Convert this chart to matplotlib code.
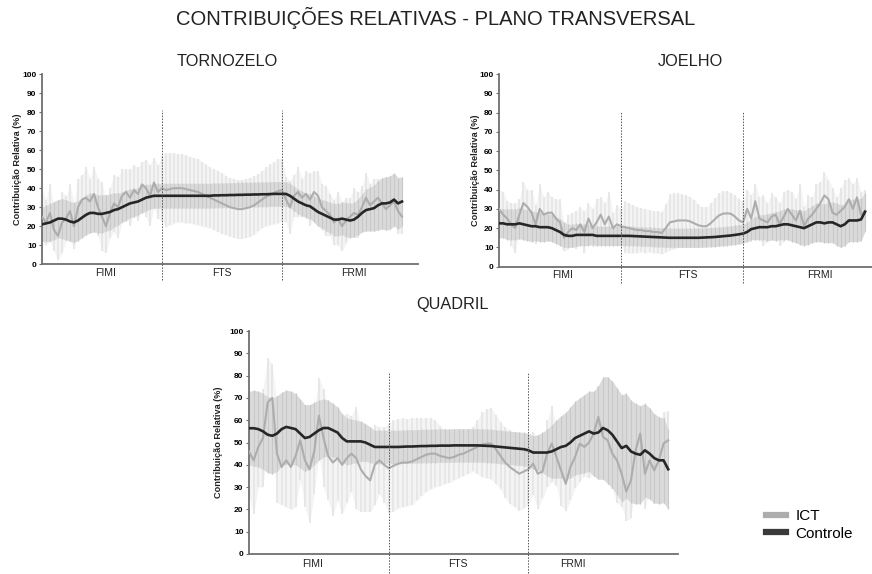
import numpy as np
import matplotlib
matplotlib.use("Agg")
import matplotlib.pyplot as plt
from matplotlib.lines import Line2D

plt.rcParams['font.family'] = ['Liberation Sans', 'DejaVu Sans']

title = "CONTRIBUIÇÕES RELATIVAS - PLANO TRANSVERSAL"
panel_titles = ["TORNOZELO", "JOELHO", "QUADRIL"]
phases = ["FIMI", "FTS", "FRMI"]
phase_bounds = [30, 60]
y_ticks = [0, 10, 20, 30, 40, 50, 60, 70, 80, 90, 100]
ylabel = "Contribuição Relativa (%)"
legend_labels = ["ICT", "Controle"]

# ---------------- TORNOZELO ----------------
ict_mean_T = [25, 22, 27, 18, 15, 22, 24, 28, 20, 30, 34,
              35, 33, 37, 30, 25, 20, 27, 32, 30, 36,
              38, 35, 39, 37, 42, 40, 36, 43, 38, 40,
              39, 39.5, 40, 40, 40, 39.5, 39, 38.5, 38, 37,
              36, 35, 34, 33, 32, 31, 30, 29.5, 29, 29,
              29.5, 30, 31, 32.5, 34, 35.5, 36.5, 37.5, 38.5, 39,
              34, 30, 36, 38, 35, 37, 34, 38, 36, 30,
              28, 26, 22, 24, 20, 23, 25, 27, 26, 30,
              35, 31, 33, 35, 32, 29, 31, 33, 28, 25]
ict_sd_T = [14, 12, 15, 11, 13, 16, 12, 14, 12, 15, 13,
            16, 12, 14, 15, 18, 14, 13, 15, 16, 14,
            12, 15, 13, 14, 12, 15, 16, 13, 14, 17,
            19.5, 19, 18.5, 18, 18, 18, 17.5, 17.5, 17.5, 17,
            16.5, 16, 16, 16, 16, 15.5, 15.5, 15.5, 15.5, 15.5,
            15.5, 15.5, 15.5, 15, 15, 15.5, 16, 16.5, 17, 16.5,
            12, 14, 11, 13, 10, 12, 14, 11, 13, 12,
            13, 11, 12, 14, 13, 12, 10, 13, 12, 11,
            13, 11, 12, 10, 12, 11, 13, 10, 12, 9]
ctrl_mean_T = [21, 21.5, 22, 23, 24, 24, 23.5, 22.5, 22, 23, 24.5,
               26, 27, 27, 26.5, 26.5, 27, 27.5, 28.5, 29, 30,
               31, 32, 32.5, 33, 34, 35, 35.5, 36, 36, 36,
               36, 36, 36, 36, 36, 36, 36, 36, 36, 36,
               36, 36, 36.2, 36.2, 36.3, 36.3, 36.4, 36.4, 36.5, 36.5,
               36.6, 36.6, 36.7, 36.7, 36.8, 36.8, 36.9, 37, 37, 37,
               37, 36, 34.5, 33, 32, 31, 30.5, 29, 27.5, 26.5,
               25.5, 24.5, 23.5, 23.5, 24, 23.5, 23, 23.5, 25, 27,
               28.5, 29, 29.5, 31, 32, 32, 32.5, 34, 32, 33]
ctrl_sd_T = [9, 9.5, 10, 10, 10, 10.5, 10.5, 10.5, 10.5, 10.5, 10.5,
             10.5, 10.5, 10, 10, 10, 9.5, 9.5, 9, 8.5, 8,
             8, 7.5, 7.5, 7, 7, 7, 6.5, 6.5, 6.5, 6.5,
             6.5, 6.5, 6.5, 6.5, 6.5, 6.5, 6.5, 6.5, 6.5, 6.5,
             6.5, 6.5, 6.5, 6.5, 6.5, 6.5, 6.5, 6.5, 6.5, 6.5,
             6.5, 6.5, 6.5, 6.5, 6.5, 6.5, 6.5, 6.5, 6.5, 6.5,
             6.5, 6.5, 6.5, 6.5, 6.5, 6.5, 6.5, 7, 7.5, 7.5,
             8, 8, 8.5, 8.5, 8.5, 9, 9, 9, 9.5, 10,
             11, 11.5, 12, 13, 13.5, 14, 14, 14, 13.5, 13]

# ---------------- JOELHO ----------------
ict_mean_J = [30, 27, 25, 22, 20, 27, 33, 31, 28, 22, 30,
              27, 28, 28, 25, 23, 15, 18, 20, 19, 22,
              18, 25, 20, 23, 27, 22, 26, 20, 22, 21,
              20.5, 20, 19.5, 19, 19, 18.5, 18.5, 18, 18, 17.5,
              20, 23, 23.5, 24, 24, 24, 23.5, 22.5, 21.5, 21,
              21, 22.5, 24.5, 26.5, 27.5, 27.7, 27.5, 26, 24, 23,
              30, 25, 34, 25, 24, 23, 26, 27, 22, 26,
              30, 27, 24, 29, 21, 25, 27, 30, 33, 37,
              35, 28, 27, 29, 31, 35, 30, 36, 27, 29]
ict_sd_J = [10, 12, 9, 11, 13, 8, 11, 9, 12, 10, 13,
            9, 11, 8, 10, 12, 7, 9, 8, 10, 9,
            11, 8, 10, 12, 9, 11, 13, 8, 10, 9,
            13.4, 13, 12.5, 12, 11.5, 11.5, 11, 11, 11, 11,
            12.5, 14.5, 14.5, 14, 13.5, 13, 12.5, 12.3, 11, 10,
            10, 10.5, 11, 11.5, 11.8, 11.5, 11, 11, 11, 11,
            10, 12, 9, 11, 13, 10, 12, 9, 11, 13,
            10, 12, 11, 14, 10, 12, 9, 13, 11, 12,
            10, 13, 9, 12, 14, 11, 13, 10, 12, 11]
ctrl_mean_J = [22.5, 22.5, 22, 22, 22, 22.5, 22, 21.5, 21, 21, 20.5,
               20.5, 20.5, 20, 19, 18, 16.5, 16, 16, 16.5, 16.5,
               16.5, 16.5, 16.5, 16, 16, 16, 16, 16, 16, 16,
               16, 16, 15.9, 15.8, 15.7, 15.6, 15.5, 15.4, 15.3, 15.2,
               15.1, 15, 15, 15, 15, 15, 15, 15, 15, 15.1,
               15.2, 15.3, 15.4, 15.6, 15.8, 16, 16.2, 16.5, 16.8, 17.2,
               18, 19.5, 20, 20.5, 20.5, 20.5, 21, 21, 21.5, 22,
               22, 21.5, 21, 20.5, 20, 21, 22, 23, 23, 22.5,
               23, 23, 22, 21, 22, 24, 24, 24, 24.5, 28.5]
ctrl_sd_J = [7.5, 7.5, 8, 8, 8, 8, 8, 8, 8, 7.5, 7.5,
             7.5, 7, 7, 7, 7, 6.5, 6, 6, 6, 5.5,
             5.5, 5.5, 5, 5, 5, 5, 5, 5, 5, 5,
             5, 5, 5, 5, 5, 5, 5, 5, 5, 5,
             5, 5, 5, 5, 5, 5, 5, 5, 5, 5,
             5, 5, 5, 5, 5, 5, 5, 5, 5, 5,
             5, 5.5, 6, 6.5, 6.5, 7, 7, 7.5, 7.5, 8,
             8, 8.5, 8.5, 9, 9, 9.5, 9.5, 10, 10, 10,
             10.5, 10.5, 11, 11, 11, 11, 11, 11, 11, 10]

# ---------------- QUADRIL ----------------
ict_mean_Q = [46, 42, 48, 52, 68, 70, 45, 39, 42, 39, 44,
              51, 42, 38, 46, 62, 52, 44, 41, 43, 40,
              43, 45, 43, 38, 35, 33, 40, 42, 40, 38.5,
              39.5, 40.5, 41, 41, 41.5, 42.5, 43.5, 44.5, 45, 45,
              44, 43.5, 43, 43.5, 44.5, 45, 46, 47, 48, 49,
              49.5, 49.5, 47, 44, 41, 39, 37.5, 36, 37, 38,
              40.5, 36, 37, 45, 49.5, 43.5, 37.5, 31.5, 39, 43.5,
              49.5, 48, 50, 54, 61.5, 52.5, 51, 45, 42, 36,
              28, 33, 46.5, 54, 36, 42, 37.5, 42, 49.5, 51]
ict_sd_Q = [20, 24, 18, 22, 20, 15, 22, 17, 21, 19, 23,
            18, 21, 24, 19, 17, 22, 20, 24, 19, 22,
            20, 17, 23, 19, 16, 14, 18, 15, 17, 20,
            20.5, 20, 20, 19.5, 19.5, 18.5, 17.5, 16.5, 16, 15,
            13.5, 12, 11, 10.5, 10.5, 10, 10, 10, 12, 14.5,
            15.5, 16, 15.5, 15, 16, 16.5, 16.5, 16.5, 16.5, 16,
            14, 16, 12, 15, 17, 13, 16, 12, 15, 14,
            17, 13, 16, 18, 14, 17, 13, 16, 19, 15,
            13, 17, 14, 12, 16, 13, 15, 12, 14, 13]
ctrl_mean_Q = [56.4, 56.4, 56, 55, 53.5, 53, 54, 56, 57, 56.5, 56,
               54, 52, 52.5, 54, 55.5, 56.5, 56.5, 55.5, 54.5, 52,
               50.5, 50.5, 50.5, 50.5, 50, 49, 48, 48, 48, 48,
               48, 48, 48.1, 48.2, 48.2, 48.3, 48.4, 48.4, 48.5, 48.5,
               48.6, 48.6, 48.6, 48.7, 48.7, 48.7, 48.7, 48.7, 48.7, 48.6,
               48.5, 48.4, 48.2, 48, 47.8, 47.6, 47.4, 47.2, 47, 46.5,
               45.5, 45.5, 45.5, 45.5, 46, 47, 48, 48.5, 50, 52,
               53, 54, 55, 54, 54.5, 56.5, 55.5, 53.5, 50.5, 47.5,
               48.5, 46, 45, 44.5, 46.5, 45, 43, 42, 42, 38]
ctrl_sd_Q = [16.5, 17, 17, 17, 17, 17, 17, 16.5, 16.5, 16.5, 16,
             15.5, 15, 14.5, 14, 13.5, 13, 12.5, 12, 11.5, 11,
             10.5, 10, 9.5, 9, 8.5, 8, 7.5, 7.5, 7.5, 7.5,
             7.5, 7.5, 7.5, 7.5, 7.5, 7.5, 7.5, 7.5, 7.5, 7.5,
             7.5, 7.5, 7.5, 7.5, 7.5, 7.5, 7.5, 7.5, 7.5, 7.5,
             7.5, 7.5, 7.5, 7.5, 7.5, 7.5, 7.5, 7.5, 7.5, 7.5,
             7.5, 8, 9, 10.5, 12, 13, 14, 15, 16, 16.5,
             17, 17.5, 18, 19, 21, 23, 24, 24, 24, 24,
             23.5, 23, 22.5, 22, 21, 20.5, 20, 19.5, 19, 18]

panels = [
    (ict_mean_T, ict_sd_T, ctrl_mean_T, ctrl_sd_T),
    (ict_mean_J, ict_sd_J, ctrl_mean_J, ctrl_sd_J),
    (ict_mean_Q, ict_sd_Q, ctrl_mean_Q, ctrl_sd_Q),
]

# layout (figure pixels)
W, H = 872, 574
layouts = [
    dict(left=42, y0=264.3, y100=74, right=418, xmax=94.0, label_x=[16, 45, 78]),
    dict(left=499, y0=266.7, y100=74, right=872, xmax=91.7, label_x=[15.7, 46.4, 78.9]),
    dict(left=249, y0=554, y100=331, right=678, xmax=92.1, label_x=[13.7, 44.8, 69.5]),
]
title_pos = [(227, 62), (690, 62), (452, 305)]
ylabel_x = [17, 475, 218]

ICT_LINE = '#adadad'
ICT_FILL = '#f4f4f4'
ICT_BAR = '#e6e6e6'
CTRL_FILL = '#dadada'
CTRL_BAR = '#c8c8c8'
CTRL_LINE = '#262626'
AX_COL = '#707070'

fig = plt.figure(figsize=(W / 100, H / 100), dpi=100)
fig.text(436 / W, 1 - 18 / H, title, ha='center', va='center', fontsize=14.5, color='#222222')

for i, (im, isd, cm, csd) in enumerate(panels):
    L = layouts[i]
    ax = fig.add_axes([L['left'] / W, 1 - L['y0'] / H,
                       (L['right'] - L['left']) / W, (L['y0'] - L['y100']) / H])
    im = np.array(im, float); isd = np.array(isd, float)
    cm = np.array(cm, float); csd = np.array(csd, float)
    x = np.arange(len(im))
    # ICT error band + bars
    ax.fill_between(x, im - isd, im + isd, color=ICT_FILL, lw=0, zorder=0.5)
    ax.vlines(x, im - isd, im + isd, color=ICT_BAR, lw=1.3, zorder=1)
    # Controle band
    ax.fill_between(x, cm - csd, cm + csd, color=CTRL_FILL, lw=0, zorder=2)
    ax.vlines(x, cm - csd, cm + csd, color=CTRL_BAR, lw=0.8, zorder=2.1)
    ax.plot(x, im, color=ICT_LINE, lw=1.5, zorder=3)
    ax.plot(x, cm, color=CTRL_LINE, lw=1.9, zorder=4)
    for b in phase_bounds:
        ax.plot([b, b], [-8.5, 81], color='#555555', lw=0.7, ls=(0, (1.5, 1.5)),
                clip_on=False, zorder=5)
    ax.set_xlim(0, L['xmax'])
    ax.set_ylim(0, 100)
    ax.set_yticks(y_ticks)
    ax.set_yticklabels([str(t) for t in y_ticks], fontsize=6, fontweight='bold')
    ax.set_xticks([])
    ax.tick_params(axis='y', length=2.5, width=0.8, color=AX_COL, pad=1.5)
    for s in ['top', 'right']:
        ax.spines[s].set_visible(False)
    for s in ['left', 'bottom']:
        ax.spines[s].set_color(AX_COL)
        ax.spines[s].set_linewidth(1.3)
    for lx, ph in zip(L['label_x'], phases):
        ax.text(lx, -4.5, ph, ha='center', va='center', fontsize=7.5, color='#222222')
    fig.text(title_pos[i][0] / W, 1 - title_pos[i][1] / H, panel_titles[i],
             ha='center', va='center', fontsize=11.7, color='#222222')
    ymid = (L['y0'] + L['y100']) / 2
    fig.text(ylabel_x[i] / W, 1 - ymid / H, ylabel, rotation=90, ha='center', va='center',
             fontsize=6.6, fontweight='bold', color='#222222')

handles = [Line2D([], [], color=ICT_LINE, lw=4.5), Line2D([], [], color='#3a3a3a', lw=4.5)]
fig.legend(handles, legend_labels, loc='center left',
           bbox_to_anchor=(752 / W, 1 - 525 / H), frameon=False, fontsize=11,
           handlelength=1.3, handletextpad=0.65, labelspacing=0.2)

fig.savefig('out.png', dpi=100)
